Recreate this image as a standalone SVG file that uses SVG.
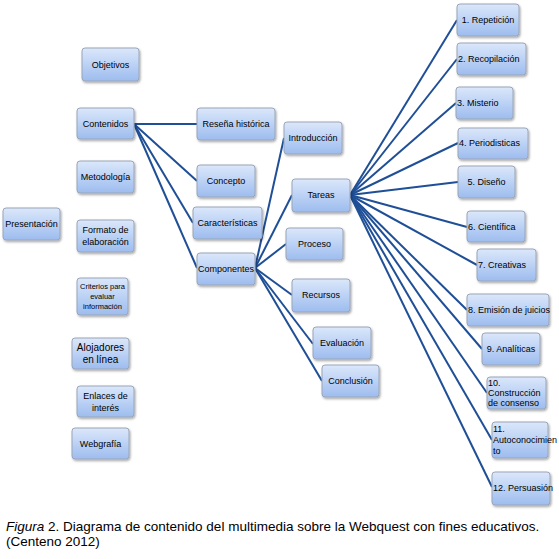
<svg xmlns="http://www.w3.org/2000/svg" width="559" height="559" viewBox="0 0 559 559">
<defs>
<linearGradient id="g" x1="0" y1="0" x2="0" y2="1">
<stop offset="0" stop-color="#dbe7fa"/>
<stop offset="0.5" stop-color="#bcd2f5"/>
<stop offset="1" stop-color="#9dbcee"/>
</linearGradient>
<filter id="sh" x="-20%" y="-20%" width="150%" height="160%">
<feDropShadow dx="1" dy="1.5" stdDeviation="1" flood-color="#000" flood-opacity="0.35"/>
</filter>
</defs>
<style>
.b{fill:url(#g);stroke:#9aa6b8;stroke-width:1;filter:url(#sh)}
.t{font-family:"Liberation Sans",Arial,sans-serif;font-size:9px;fill:#000;text-anchor:middle}
.l{font-family:"Liberation Sans",Arial,sans-serif;font-size:9px;fill:#000}
.c line{stroke:#1f4f96;stroke-width:2}
.cap{font-family:"Liberation Sans",Arial,sans-serif;font-size:13.5px;fill:#000}
</style>
<rect width="559" height="559" fill="#fff"/>
<g id="connectors" class="c">
<line x1="134" y1="124" x2="197" y2="124"/>
<line x1="134" y1="124" x2="197" y2="181"/>
<line x1="134" y1="124" x2="193" y2="223"/>
<line x1="134" y1="124" x2="197" y2="268"/>
<line x1="255" y1="268" x2="284" y2="138"/>
<line x1="255" y1="268" x2="292" y2="195"/>
<line x1="255" y1="268" x2="286" y2="244"/>
<line x1="255" y1="268" x2="292" y2="295"/>
<line x1="255" y1="268" x2="313" y2="344"/>
<line x1="255" y1="268" x2="322" y2="381"/>
<line x1="350" y1="195" x2="457" y2="20"/>
<line x1="350" y1="195" x2="457" y2="59"/>
<line x1="350" y1="195" x2="456" y2="103"/>
<line x1="350" y1="195" x2="458" y2="143"/>
<line x1="350" y1="195" x2="458" y2="182"/>
<line x1="350" y1="195" x2="467" y2="227"/>
<line x1="350" y1="195" x2="477" y2="265"/>
<line x1="350" y1="195" x2="467" y2="310"/>
<line x1="350" y1="195" x2="482" y2="349"/>
<line x1="350" y1="195" x2="487" y2="393"/>
<line x1="350" y1="195" x2="492" y2="440"/>
<line x1="350" y1="195" x2="492" y2="487"/>
</g>
<g id="objetivos"><rect class="b" x="82" y="48" width="57" height="33" rx="3"/><text class="t" x="110.5" y="68">Objetivos</text></g>
<g id="contenidos"><rect class="b" x="77" y="108" width="57" height="31" rx="3"/><text class="t" x="105.5" y="127">Contenidos</text></g>
<g id="metodologia"><rect class="b" x="77" y="161" width="57" height="32" rx="3"/><text class="t" x="105.5" y="180">Metodología</text></g>
<g id="presentacion"><rect class="b" x="3" y="208" width="57" height="32" rx="3"/><text class="t" x="31.5" y="227">Presentación</text></g>
<g id="formato"><rect class="b" x="77" y="220" width="57" height="32" rx="3"/><text class="t" x="105.5" y="233">Formato de</text><text class="t" x="105.5" y="245">elaboración</text></g>
<g id="criterios"><rect class="b" x="77" y="278" width="51" height="37" rx="3"/><text class="t" style="font-size:7.5px" x="102.5" y="289">Criterios para</text><text class="t" style="font-size:7.5px" x="102.5" y="299">evaluar</text><text class="t" style="font-size:7.5px" x="102.5" y="309">información</text></g>
<g id="alojadores"><rect class="b" x="72" y="338" width="57" height="31" rx="3"/><text class="t" style="font-size:10px" x="100.5" y="351">Alojadores</text><text class="t" style="font-size:10px" x="100.5" y="363">en línea</text></g>
<g id="enlaces"><rect class="b" x="77" y="386" width="57" height="31" rx="3"/><text class="t" x="105.5" y="399">Enlaces de</text><text class="t" x="105.5" y="411">interés</text></g>
<g id="webgrafia"><rect class="b" x="72" y="428" width="57" height="31" rx="3"/><text class="t" x="100.5" y="447">Webgrafía</text></g>
<g id="resena"><rect class="b" x="197" y="108" width="78" height="32" rx="3"/><text class="t" x="236" y="127">Reseña histórica</text></g>
<g id="concepto"><rect class="b" x="197" y="165" width="58" height="32" rx="3"/><text class="t" x="226" y="184">Concepto</text></g>
<g id="caracteristicas"><rect class="b" x="193" y="207" width="69" height="32" rx="3"/><text class="t" x="227.5" y="226">Características</text></g>
<g id="componentes"><rect class="b" x="197" y="253" width="58" height="32" rx="3"/><text class="t" x="226" y="272">Componentes</text></g>
<g id="introduccion"><rect class="b" x="284" y="122" width="58" height="32" rx="3"/><text class="t" x="313" y="141">Introducción</text></g>
<g id="tareas"><rect class="b" x="292" y="179" width="58" height="33" rx="3"/><text class="t" x="321" y="198">Tareas</text></g>
<g id="proceso"><rect class="b" x="286" y="228" width="57" height="32" rx="3"/><text class="t" x="314.5" y="247">Proceso</text></g>
<g id="recursos"><rect class="b" x="292" y="279" width="58" height="33" rx="3"/><text class="t" x="321" y="298">Recursos</text></g>
<g id="evaluacion"><rect class="b" x="313" y="327" width="58" height="32" rx="3"/><text class="t" x="342" y="346">Evaluación</text></g>
<g id="conclusion"><rect class="b" x="322" y="365" width="57" height="32" rx="3"/><text class="t" x="350.5" y="384">Conclusión</text></g>
<g id="t1"><rect class="b" x="457" y="4" width="62" height="32" rx="3"/><text class="t" x="488" y="23">1. Repetición</text></g>
<g id="t2"><rect class="b" x="457" y="43" width="69" height="32" rx="3"/><text class="l" x="458" y="62">2. Recopilación</text></g>
<g id="t3"><rect class="b" x="456" y="87" width="57" height="32" rx="3"/><text class="l" x="457" y="106">3. Misterio</text></g>
<g id="t4"><rect class="b" x="458" y="128" width="70" height="31" rx="3"/><text class="l" x="459" y="146">4. Periodisticas</text></g>
<g id="t5"><rect class="b" x="458" y="166" width="57" height="32" rx="3"/><text class="t" x="486.5" y="185">5. Diseño</text></g>
<g id="t6"><rect class="b" x="467" y="211" width="58" height="31" rx="3"/><text class="l" x="468" y="230">6. Científica</text></g>
<g id="t7"><rect class="b" x="477" y="249" width="59" height="32" rx="3"/><text class="l" x="478" y="268">7. Creativas</text></g>
<g id="t8"><rect class="b" x="467" y="294" width="82" height="32" rx="3"/><text class="l" x="468" y="313">8. Emisión de juicios</text></g>
<g id="t9"><rect class="b" x="482" y="333" width="58" height="32" rx="3"/><text class="t" x="511" y="352">9. Analíticas</text></g>
<g id="t10"><rect class="b" x="487" y="377" width="59" height="32" rx="3"/><text class="l" x="488" y="386">10.</text><text class="l" x="488" y="396">Construcción</text><text class="l" x="488" y="406">de consenso</text></g>
<g id="t11"><rect class="b" x="492" y="422" width="56" height="36" rx="3"/><text class="l" x="493" y="432">11.</text><text class="l" x="493" y="443">Autoconocimien</text><text class="l" x="493" y="454">to</text></g>
<g id="t12"><rect class="b" x="492" y="472" width="58" height="33" rx="3"/><text class="l" x="493" y="491">12. Persuasión</text></g>
<text class="cap" x="6" y="531"><tspan font-style="italic">Figura</tspan> 2. Diagrama de contenido del multimedia sobre la Webquest con fines educativos.</text>
<text class="cap" x="6" y="546">(Centeno 2012)</text>
</svg>
